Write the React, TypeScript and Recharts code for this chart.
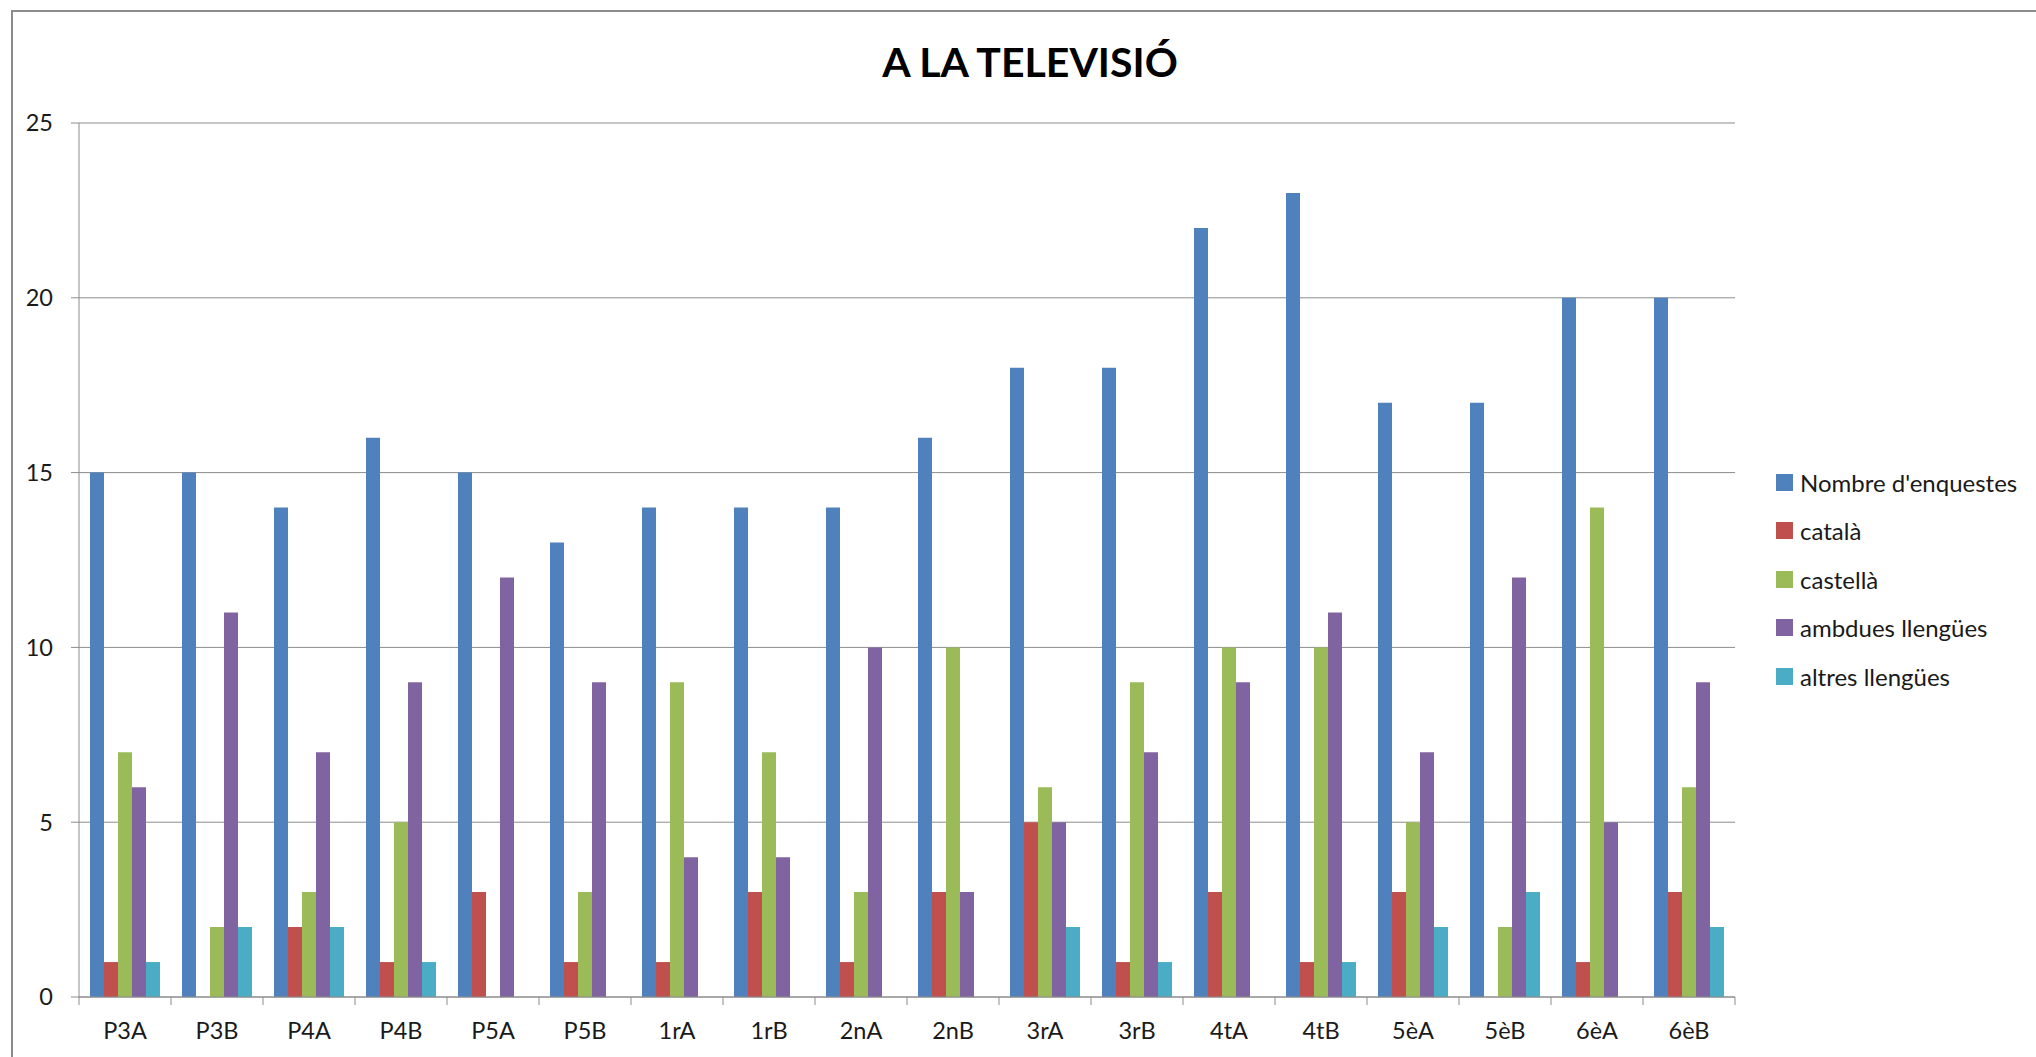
import { Bar, BarChart, CartesianGrid, Legend, XAxis, YAxis } from "recharts";

document.body.style.margin = "0";

const categories = [
  "P3A", "P3B", "P4A", "P4B", "P5A", "P5B", "1rA", "1rB", "2nA",
  "2nB", "3rA", "3rB", "4tA", "4tB", "5èA", "5èB", "6èA", "6èB",
];

const nombreEnquestes = [15, 15, 14, 16, 15, 13, 14, 14, 14, 16, 18, 18, 22, 23, 17, 17, 20, 20];
const catala = [1, 0, 2, 1, 3, 1, 1, 3, 1, 3, 5, 1, 3, 1, 3, 0, 1, 3];
const castella = [7, 2, 3, 5, 0, 3, 9, 7, 3, 10, 6, 9, 10, 10, 5, 2, 14, 6];
const ambdues = [6, 11, 7, 9, 12, 9, 4, 4, 10, 3, 5, 7, 9, 11, 7, 12, 5, 9];
const altres = [1, 2, 2, 1, 0, 0, 0, 0, 0, 0, 2, 1, 0, 1, 2, 3, 0, 2];

const yTicks = [0, 5, 10, 15, 20, 25];

const series = [
  { key: "nombre", name: "Nombre d'enquestes", color: "#4F81BD" },
  { key: "catala", name: "català", color: "#C0504D" },
  { key: "castella", name: "castellà", color: "#9BBB59" },
  { key: "ambdues", name: "ambdues llengües", color: "#8064A2" },
  { key: "altres", name: "altres llengües", color: "#4BACC6" },
];

const data = categories.map((grup, i) => ({
  grup,
  nombre: nombreEnquestes[i],
  catala: catala[i],
  castella: castella[i],
  ambdues: ambdues[i],
  altres: altres[i],
}));

const FONT = "Lato, 'Noto Sans', sans-serif";
const AXIS = "#8c8c8c";

// category boundary ticks, like the spreadsheet original
function GroupTick(props: any) {
  const { x, y, payload, index } = props;
  const half = payload?.offset ?? 46;
  return (
    <g>
      <line x1={x - half} y1={y} x2={x - half} y2={y + 8} stroke={AXIS} />
      {index === categories.length - 1 && (
        <line x1={x + half} y1={y} x2={x + half} y2={y + 8} stroke={AXIS} />
      )}
      <text x={x} y={y + 42} textAnchor="middle" fill="#1a1a1a" fontSize={23.5} fontFamily={FONT}>
        {payload.value}
      </text>
    </g>
  );
}

function SideLegend() {
  return (
    <div style={{ fontFamily: FONT, fontSize: 24, color: "#1a1a1a" }}>
      {series.map((s) => (
        <div key={s.key} style={{ height: 48.5, display: "flex", alignItems: "center" }}>
          <span style={{ width: 17, height: 17, background: s.color, marginRight: 7, display: "inline-block" }} />
          <span style={{ whiteSpace: "nowrap" }}>{s.name}</span>
        </div>
      ))}
    </div>
  );
}

export default function App() {
  return (
    <div style={{ position: "relative", width: 2036, height: 1057, overflow: "hidden", background: "#fff" }}>
      <div
        style={{
          position: "absolute",
          left: 11,
          top: 10,
          width: 3000,
          height: 3000,
          border: "2px solid #8c8c8c",
        }}
      />
      <div
        style={{
          position: "absolute",
          left: 0,
          width: 2060,
          top: 37,
          textAlign: "center",
          fontFamily: FONT,
          fontWeight: 700,
          fontSize: 41,
          color: "#000",
        }}
      >
        A LA TELEVISIÓ
      </div>
      <div style={{ position: "absolute", left: 0, top: 0 }}>
        <BarChart
          width={2036}
          height={1057}
          data={data}
          margin={{ top: 123, right: 301, bottom: 0, left: 0 }}
          barGap={0}
          barSize={14}
        >
          <CartesianGrid vertical={false} stroke={AXIS} />
          <XAxis
            dataKey="grup"
            height={60}
            axisLine={{ stroke: AXIS }}
            tickLine={false}
            tickSize={0}
            tickMargin={0}
            interval={0}
            tick={<GroupTick />}
          />
          <YAxis
            width={79}
            domain={[0, 25]}
            ticks={yTicks}
            axisLine={{ stroke: AXIS }}
            tickLine={{ stroke: AXIS }}
            tickSize={8}
            tickMargin={18}
            tick={{ fill: "#1a1a1a", fontSize: 23.5, fontFamily: FONT }}
          />
          <Legend
            layout="vertical"
            align="center"
            verticalAlign="middle"
            content={<SideLegend />}
            wrapperStyle={{ position: "absolute", left: 1776, top: 458, width: 260 }}
          />
          {series.map((s) => (
            <Bar key={s.key} dataKey={s.key} name={s.name} fill={s.color} isAnimationActive={false} />
          ))}
        </BarChart>
      </div>
    </div>
  );
}
